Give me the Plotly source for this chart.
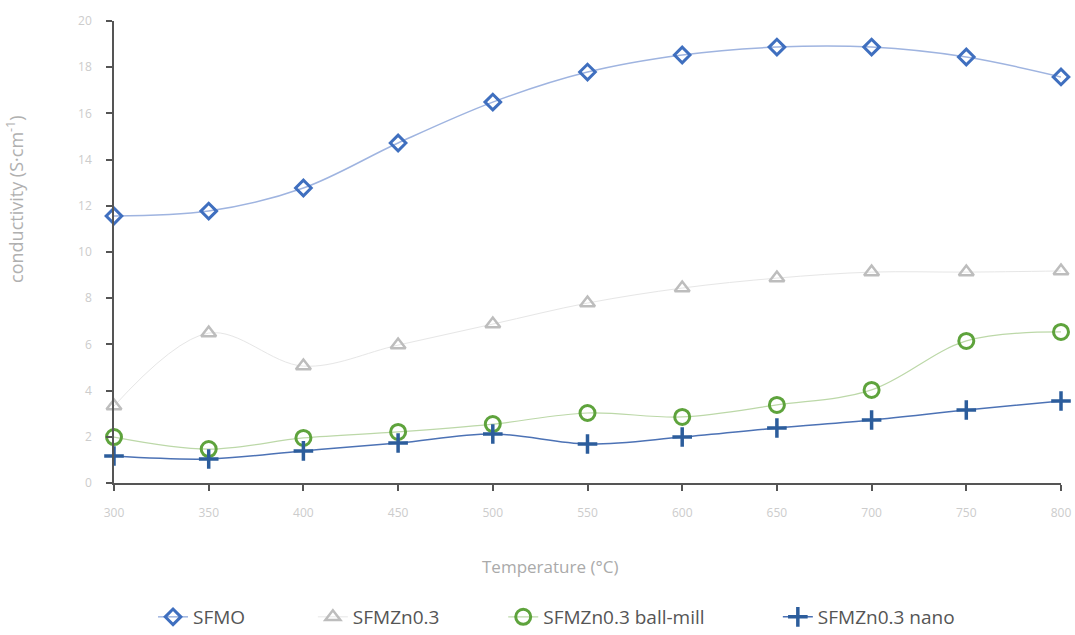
import plotly.graph_objects as go

temperature = [300, 350, 400, 450, 500, 550, 600, 650, 700, 750, 800]
sfmo = [11.56, 11.77, 12.77, 14.72, 16.49, 17.79, 18.53, 18.87, 18.87, 18.44, 17.58]
sfmzn03 = [3.33, 6.49, 5.06, 5.97, 6.88, 7.79, 8.44, 8.87, 9.13, 9.13, 9.18]
ball_mill = [1.99, 1.47, 1.95, 2.21, 2.55, 3.03, 2.86, 3.38, 4.03, 6.15, 6.54]
nano = [1.17, 1.04, 1.39, 1.73, 2.12, 1.69, 1.99, 2.38, 2.73, 3.16, 3.55]

x_ticks = [300, 350, 400, 450, 500, 550, 600, 650, 700, 750, 800]
y_ticks = [0, 2, 4, 6, 8, 10, 12, 14, 16, 18, 20]
x_title = "Temperature (°C)"
y_title = "conductivity (S·cm<sup>-1</sup>)"

fig = go.Figure()
fig.add_trace(go.Scatter(
    x=temperature, y=sfmo, name="SFMO", mode="lines+markers", legend="legend",
    line=dict(color="#9fb4e0", width=1.5, shape="spline", smoothing=1),
    marker=dict(symbol="diamond-open", size=12, color="#3f6fbf", line=dict(width=3, color="#3f6fbf")),
))
fig.add_trace(go.Scatter(
    x=temperature, y=sfmzn03, name="SFMZn0.3", mode="lines+markers", legend="legend2",
    line=dict(color="#e6e6e6", width=1, shape="spline", smoothing=1),
    marker=dict(symbol="triangle-up-open", size=13, color="#bdbdbd", line=dict(width=2.5, color="#bdbdbd")),
))
fig.add_trace(go.Scatter(
    x=temperature, y=ball_mill, name="SFMZn0.3 ball-mill", mode="lines+markers", legend="legend3",
    line=dict(color="#bcd8a8", width=1.2, shape="spline", smoothing=1),
    marker=dict(symbol="circle-open", size=15, color="#5ea33c", line=dict(width=3, color="#5ea33c")),
))
fig.add_trace(go.Scatter(
    x=temperature, y=nano, name="SFMZn0.3 nano", mode="lines+markers", legend="legend4",
    line=dict(color="#4c72b5", width=1.5, shape="spline", smoothing=1),
    marker=dict(symbol="cross-thin-open", size=14, color="#2c5d9c", line=dict(width=3.5, color="#2c5d9c")),
))

legend_style = dict(
    orientation="h", xanchor="left", y=-0.29, yanchor="middle",
    font=dict(size=19, color="#555555"), itemsizing="trace", bgcolor="rgba(0,0,0,0)",
)

fig.update_layout(
    width=1075, height=635,
    margin=dict(l=114, r=14, t=21, b=152, autoexpand=False),
    paper_bgcolor="white", plot_bgcolor="white",
    font=dict(family="Open Sans", color="#555555"),
    showlegend=True,
    legend=dict(x=0.0412, **legend_style),
    legend2=dict(x=0.210, **legend_style),
    legend3=dict(x=0.411, **legend_style),
    legend4=dict(x=0.701, **legend_style),
    xaxis=dict(
        range=[300, 800], tickvals=x_ticks, ticktext=[str(v) for v in x_ticks],
        showgrid=False, zeroline=False, showline=True, linecolor="#555555", linewidth=1.5,
        ticks="outside", ticklen=6, tickcolor="#555555", tickwidth=1.5,
        tickfont=dict(size=12, color="#cccccc"), ticklabelstandoff=12,
    ),
    yaxis=dict(
        range=[0, 20], tickvals=y_ticks, ticktext=[str(v) for v in y_ticks],
        showgrid=False, zeroline=False, showline=True, linecolor="#555555", linewidth=1.5,
        ticks="outside", ticklen=6, tickcolor="#555555", tickwidth=1.5,
        tickfont=dict(size=12, color="#cccccc"), ticklabelstandoff=12,
    ),
    annotations=[
        dict(text=x_title, xref="paper", yref="paper", x=0.460, y=-0.18,
             xanchor="center", yanchor="middle", showarrow=False,
             font=dict(size=17, color="#aaaaaa")),
        dict(text=y_title, xref="paper", yref="paper", x=-0.1045, y=0.615,
             xanchor="center", yanchor="middle", showarrow=False, textangle=-90,
             font=dict(size=18, color="#b0b0b0")),
    ],
)
for tr in fig.data:
    tr.cliponaxis = False

fig.write_html("out.html")
